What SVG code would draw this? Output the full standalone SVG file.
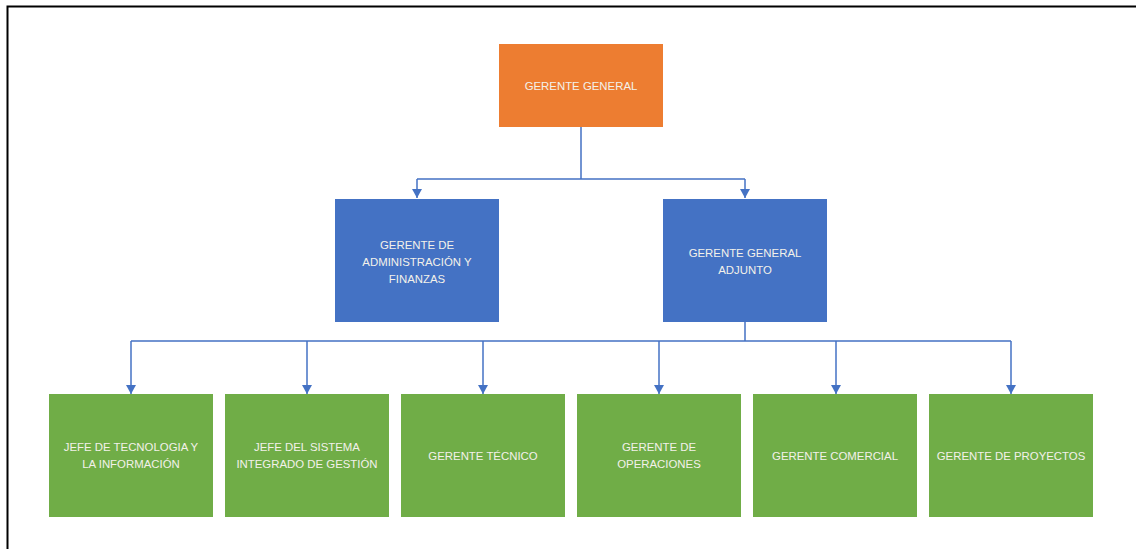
<svg xmlns="http://www.w3.org/2000/svg" width="1136" height="549" viewBox="0 0 1136 549">
  <style>
    .orange { fill: #ED7D31; }
    .blue { fill: #4472C4; }
    .green { fill: #70AD47; }
    .lbl { font-family: "Liberation Sans", Arial, sans-serif; font-size: 11.4px; fill: #F3F1EA; text-anchor: middle; }
    .conn { fill: none; stroke: #4472C4; stroke-width: 1.5; }
    .arr { fill: none; stroke: #4472C4; stroke-width: 1.5; marker-end: url(#arrow); }
  </style>
  <defs>
    <marker id="arrow" markerUnits="userSpaceOnUse" markerWidth="10" markerHeight="10" refX="9" refY="5" orient="auto" viewBox="0 0 10 10">
      <path d="M0,0 L9,5 L0,10 Z" fill="#4472C4"/>
    </marker>
  </defs>
  <rect x="0" y="0" width="1136" height="549" fill="#FFFFFF"/>
  <path d="M7.5,549 V6.5 H1136" fill="none" stroke="#000000" stroke-width="2"/>

  <g id="connectors">
    <path class="conn" d="M581,127 V179 M417,179 H745 M745,322 V341 M131,341 H1011"/>
    <path class="arr" d="M417,179 V198"/>
    <path class="arr" d="M745,179 V198"/>
    <path class="arr" d="M131,341 V394"/>
    <path class="arr" d="M307,341 V394"/>
    <path class="arr" d="M483,341 V394"/>
    <path class="arr" d="M659,341 V394"/>
    <path class="arr" d="M836,341 V394"/>
    <path class="arr" d="M1011,341 V394"/>
  </g>

  <g id="gerente-general">
    <rect class="orange" x="499" y="44" width="164" height="83"/>
    <text class="lbl" x="581" y="90">GERENTE GENERAL</text>
  </g>

  <g id="gerente-admin-finanzas">
    <rect class="blue" x="335" y="199" width="164" height="123"/>
    <text class="lbl" x="417" y="249">GERENTE DE</text>
    <text class="lbl" x="417" y="266">ADMINISTRACIÓN Y</text>
    <text class="lbl" x="417" y="283">FINANZAS</text>
  </g>

  <g id="gerente-general-adjunto">
    <rect class="blue" x="663" y="199" width="164" height="123"/>
    <text class="lbl" x="745" y="257">GERENTE GENERAL</text>
    <text class="lbl" x="745" y="274">ADJUNTO</text>
  </g>

  <g id="jefe-tecnologia">
    <rect class="green" x="49" y="394" width="164" height="123"/>
    <text class="lbl" x="131" y="451">JEFE DE TECNOLOGIA Y</text>
    <text class="lbl" x="131" y="468">LA INFORMACIÓN</text>
  </g>

  <g id="jefe-sistema-integrado">
    <rect class="green" x="225" y="394" width="164" height="123"/>
    <text class="lbl" x="307" y="451">JEFE DEL SISTEMA</text>
    <text class="lbl" x="307" y="468">INTEGRADO DE GESTIÓN</text>
  </g>

  <g id="gerente-tecnico">
    <rect class="green" x="401" y="394" width="164" height="123"/>
    <text class="lbl" x="483" y="460">GERENTE TÉCNICO</text>
  </g>

  <g id="gerente-operaciones">
    <rect class="green" x="577" y="394" width="164" height="123"/>
    <text class="lbl" x="659" y="451">GERENTE DE</text>
    <text class="lbl" x="659" y="468">OPERACIONES</text>
  </g>

  <g id="gerente-comercial">
    <rect class="green" x="753" y="394" width="164" height="123"/>
    <text class="lbl" x="835" y="460">GERENTE COMERCIAL</text>
  </g>

  <g id="gerente-proyectos">
    <rect class="green" x="929" y="394" width="164" height="123"/>
    <text class="lbl" x="1011" y="460">GERENTE DE PROYECTOS</text>
  </g>
</svg>
